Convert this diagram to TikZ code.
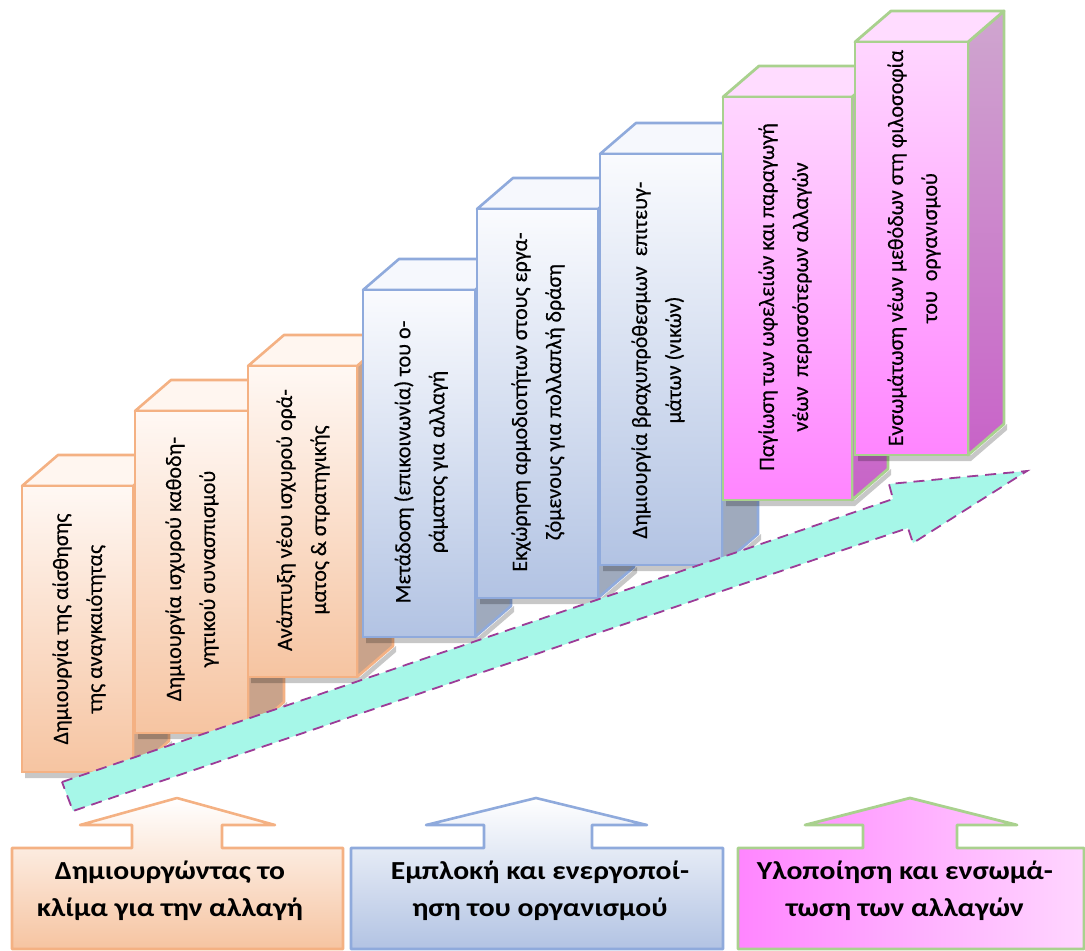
\documentclass[tikz,border=0pt]{standalone}
\usepackage{fontspec}
\setmainfont{Carlito}
\newfontfamily\stepfont[FakeBold=0.4]{Carlito}
\newfontfamily\phasefont[FakeStretch=1.14,BoldFont={Carlito Bold}]{Carlito}
\definecolor{orgEdge}{HTML}{F4B183}
\definecolor{orgLight}{HTML}{FFF8F4}
\definecolor{orgDark}{HTML}{F6C4A1}
\definecolor{orgTop}{HTML}{FFF6F0}
\definecolor{orgSide}{HTML}{C9A38B}
\definecolor{bluEdge}{HTML}{8FAADC}
\definecolor{bluLight}{HTML}{FAFBFE}
\definecolor{bluDark}{HTML}{B2C3E3}
\definecolor{bluTop}{HTML}{F6F8FD}
\definecolor{bluSide}{HTML}{9FAABD}
\definecolor{pnkEdge}{HTML}{A9D18E}
\definecolor{pnkLight}{HTML}{FFD6FF}
\definecolor{pnkDark}{HTML}{FF85FF}
\definecolor{pnkTop}{HTML}{FFDCFF}
\definecolor{pnkSideTop}{HTML}{CFA6CF}
\definecolor{pnkSideBot}{HTML}{C863C8}
\definecolor{aqua}{HTML}{A6F7E8}
\definecolor{plum}{HTML}{9C3C97}

% one step of the staircase: left, right, top, bottom of the front face, palette
\newcommand\stepcube[5]{%
  \fill[black,opacity=0.22] ({#1+3},{#4}) -- ({#2+3},{#4}) -- ({#2+39},{#4-31}) -- ({#2+39},{#4-25}) -- ({#2+3},{#4+6}) -- ({#1+3},{#4+6}) -- cycle;
  \draw[#5 side] (#2,#3) -- ({#2+36},{#3-31}) -- ({#2+36},{#4-31}) -- (#2,#4) -- cycle;
  \draw[#5 top] (#1,#3) -- ({#1+36},{#3-31}) -- ({#2+36},{#3-31}) -- (#2,#3) -- cycle;
  \draw[#5 front] (#1,#3) rectangle (#2,#4);
}

\begin{document}
\begin{tikzpicture}[x=1pt,y=-1pt,
  org side/.style={draw=orgEdge,line width=2.6pt,line join=round,fill=orgSide},
  org top/.style={draw=orgEdge,line width=2.6pt,line join=round,fill=orgTop},
  org front/.style={draw=orgEdge,line width=2.6pt,top color=orgLight,bottom color=orgDark},
  blu side/.style={draw=bluEdge,line width=2.6pt,line join=round,fill=bluSide},
  blu top/.style={draw=bluEdge,line width=2.6pt,line join=round,fill=bluTop},
  blu front/.style={draw=bluEdge,line width=2.6pt,top color=bluLight,bottom color=bluDark},
  pnk side/.style={draw=pnkEdge,line width=2.8pt,line join=round,top color=pnkSideTop,bottom color=pnkSideBot},
  pnk top/.style={draw=pnkEdge,line width=2.8pt,line join=round,fill=pnkTop},
  pnk front/.style={draw=pnkEdge,line width=2.8pt,top color=pnkLight,bottom color=pnkDark},
  steptext/.style={rotate=90,align=center,font=\stepfont\fontsize{22}{34}\selectfont,text=black,inner sep=0pt},
  phasetext/.style={align=center,font=\phasefont\fontsize{26}{37}\selectfont\bfseries,text=black,inner sep=0pt},
]
\useasboundingbox (0,0) rectangle (1085,951);

% staircase, drawn from the lowest step upwards
\stepcube{22}{133}{486}{772}{org}
\stepcube{135}{248}{411}{733}{org}
\stepcube{248}{357}{366}{677}{org}
\stepcube{363}{475}{290}{637}{blu}
\stepcube{477}{598}{209}{598}{blu}
\stepcube{600}{722}{154}{565}{blu}
\stepcube{723}{852}{97}{500}{pnk}
\stepcube{855}{968}{42}{455}{pnk}

\node[steptext] (s1) at (79,629) {Δημιουργία της αίσθησης\\της αναγκαιότητας};
\node[steptext] (s2) at (192,569) {Δημιουργία ισχυρού καθοδη-\\γητικού συνασπισμού};
\node[steptext] (s3) at (303,520) {Ανάπτυξη νέου ισχυρού ορά-\\ματος \& στρατηγικής};
\node[steptext] (s4) at (421,462) {Μετάδοση (επικοινωνία) του ο-\\ράματος για αλλαγή};
\node[steptext] (s5) at (538,402) {Εκχώρηση αρμοδιοτήτων στους εργα-\\ζόμενους για πολλαπλή δράση};
\node[steptext] (s6) at (658,360) {Δημιουργία βραχυπρόθεσμων \ επιτευγ-\\μάτων (νικών)};
\node[steptext] (s7) at (785,297) {Παγίωση των ωφελειών και παραγωγή\\νέων \ περισσότερων αλλαγών};
\node[steptext] (s8) at (914,248) {Ενσωμάτωση νέων μεθόδων στη φιλοσοφία\\του \ οργανισμού};

% rising arrow across the steps
\draw[fill=aqua,draw=plum,line width=1.8pt,dash pattern=on 11pt off 7pt,line join=miter]
  (62,782) -- (893,499) -- (889,484) -- (1027,471) -- (913,543) -- (908,528) -- (73,811) -- cycle;

% phase callouts
\draw[draw=orgEdge,line width=2.6pt,line join=round,top color=white,bottom color=orgDark]
  (12,848) -- (132,848) -- (132,825) -- (80,825) -- (177,798) -- (275,825) -- (222,825) -- (222,848) -- (343,848) -- (343,949) -- (12,949) -- cycle;
\draw[draw=bluEdge,line width=2.6pt,line join=round,top color=white,bottom color=bluDark]
  (351,848) -- (484,848) -- (484,825) -- (426,825) -- (536,798) -- (647,825) -- (592,825) -- (592,848) -- (723,848) -- (723,949) -- (351,949) -- cycle;
\draw[draw=pnkEdge,line width=2.8pt,line join=round,left color=pnkDark,right color=pnkLight]
  (738,848) -- (863,848) -- (863,825) -- (805,825) -- (910,798) -- (1017,825) -- (957,825) -- (957,848) -- (1084,848) -- (1084,949) -- (738,949) -- cycle;

\node[phasetext] (p1) at (170,891) {Δημιουργώντας το\\κλίμα για την αλλαγή};
\node[phasetext] (p2) at (540,891) {Εμπλοκή και ενεργοποί-\\ηση του οργανισμού};
\node[phasetext] (p3) at (905,891) {Υλοποίηση και ενσωμά-\\τωση των αλλαγών};
\end{tikzpicture}
\end{document}
